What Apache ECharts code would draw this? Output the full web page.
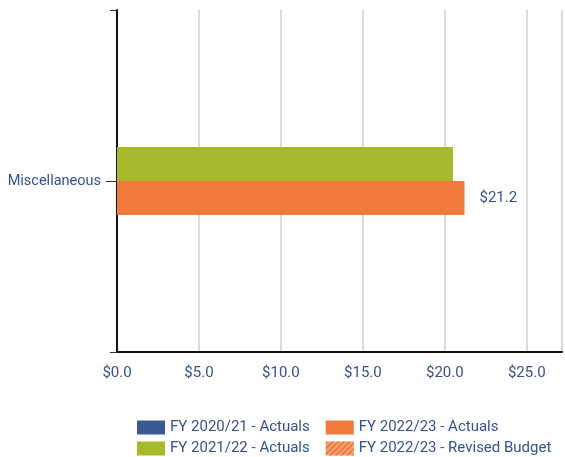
<!DOCTYPE html>
<html>
<head>
<meta charset="utf-8">
<script src="https://cdn.jsdelivr.net/npm/echarts@6/dist/echarts.min.js"></script>
<style>
    html, body {margin: 0; padding: 0; background: #fff;}
    #chart {width: 565px; height: 457px;}
</style>
</head>
<body>
<div id="chart"></div>
<script>
const categories = ['Miscellaneous']
const fy2021Actuals = [null]
const fy2122Actuals = [20.5]
const fy2223Actuals = [21.2]
const fy2223Revised = [null]
const xTicks = [0, 5, 10, 15, 20, 25]

const textBlue = '#34528f'
const font = 'Roboto'

const chart = echarts.init(document.getElementById('chart'))
chart.setOption({
    animation: false,
    textStyle: {fontFamily: font},
    grid: {left: 117, right: 0, top: 10, bottom: 105, containLabel: false},
    legend: [
        {
            data: ['FY 2020/21 - Actuals', 'FY 2022/23 - Actuals'],
            icon: 'rect',
            left: 132, top: 415, itemWidth: 28, itemHeight: 14, itemGap: 16,
            textStyle: {color: textBlue, fontSize: 15, fontFamily: font}
        },
        {
            data: ['FY 2021/22 - Actuals', 'FY 2022/23 - Revised Budget'],
            icon: 'rect',
            left: 132, top: 436, itemWidth: 28, itemHeight: 14, itemGap: 16,
            textStyle: {color: textBlue, fontSize: 15, fontFamily: font}
        }
    ],
    xAxis: {
        type: 'value',
        min: xTicks[0],
        max: 27.15,
        interval: 5,
        axisLine: {show: true, lineStyle: {color: '#111', width: 2}},
        axisTick: {show: false},
        splitLine: {show: true, lineStyle: {color: '#dcdcdc', width: 2}},
        axisLabel: {
            color: textBlue, fontSize: 15, margin: 14,
            formatter: v => xTicks.includes(v) ? '$' + v.toFixed(1) : ''
        }
    },
    yAxis: [
        {
            type: 'category',
            data: categories,
            axisLine: {show: true, lineStyle: {color: '#111', width: 2}},
            axisTick: {show: true, length: 7, lineStyle: {color: '#333'}},
            axisLabel: {show: false}
        },
        {
            type: 'category',
            data: categories,
            position: 'left',
            axisLine: {show: false},
            axisTick: {show: true, alignWithLabel: true, length: 11, lineStyle: {color: '#333'}},
            axisLabel: {color: textBlue, fontSize: 14.5, margin: 16}
        }
    ],
    series: [
        {
            name: 'FY 2020/21 - Actuals', type: 'bar', stack: 'a', data: fy2021Actuals,
            barWidth: 34, barGap: '0%',
            itemStyle: {color: '#3b5a91'}
        },
        {
            name: 'FY 2021/22 - Actuals', type: 'bar', stack: 'a', data: fy2122Actuals,
            barWidth: 34,
            itemStyle: {color: '#a9b92d'}
        },
        {
            name: 'FY 2022/23 - Actuals', type: 'bar', stack: 'b', data: fy2223Actuals,
            barWidth: 34,
            itemStyle: {color: '#ef7a3b'},
            label: {show: true, position: 'right', distance: 15, color: textBlue, fontSize: 15,
                formatter: p => '$' + p.value.toFixed(1)}
        },
        {
            name: 'FY 2022/23 - Revised Budget', type: 'bar', stack: 'b', data: fy2223Revised,
            barWidth: 34,
            itemStyle: {
                color: '#f5a57a',
                decal: {symbol: 'rect', dashArrayX: [1, 0], dashArrayY: [2, 2], rotation: -Math.PI / 4, color: '#ef7a3b'}
            }
        }
    ]
})
</script>
</body>
</html>
